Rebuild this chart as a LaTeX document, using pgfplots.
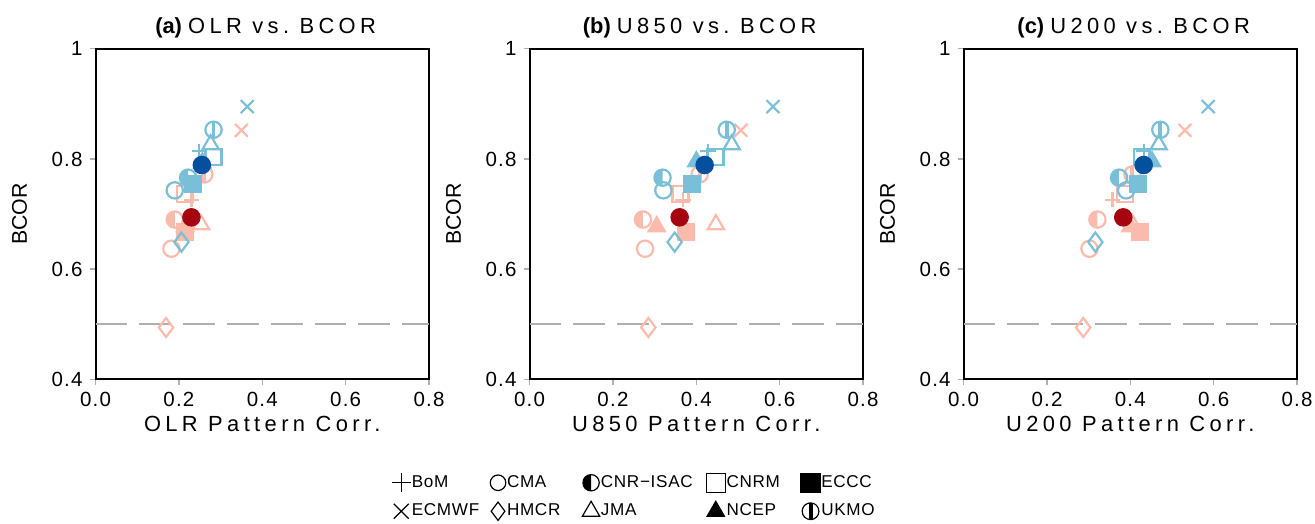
\documentclass[border=0pt]{standalone}
\usepackage{fontspec}
\setmainfont{Liberation Sans}
\newfontfamily\nclfont{Liberation Sans}[LetterSpace=20]
\newfontfamily\ticfam{Liberation Sans}[LetterSpace=6]
\newfontfamily\legfam{Liberation Sans}[LetterSpace=4]
\usepackage{pgfplots}
\pgfplotsset{compat=1.18}
\definecolor{lb}{RGB}{122,191,216}
\definecolor{sa}{RGB}{250,187,172}
\definecolor{db}{RGB}{5,80,158}
\definecolor{dr}{RGB}{165,5,16}
\definecolor{dashc}{RGB}{175,175,175}

\pgfdeclareplotmark{lefthalf}{%
  \pgfpathcircle{\pgfpointorigin}{\pgfplotmarksize}\pgfusepathqstroke
  \pgfpathmoveto{\pgfqpoint{0pt}{\pgfplotmarksize}}%
  \pgfpatharc{90}{270}{\pgfplotmarksize}\pgfpathclose\pgfusepathqfill}
\pgfdeclareplotmark{midbar}{%
  \pgfpathcircle{\pgfpointorigin}{\pgfplotmarksize}\pgfusepathqstroke
  \pgfpathrectangle{\pgfqpoint{-0.24\pgfplotmarksize}{-0.97\pgfplotmarksize}}{\pgfqpoint{0.48\pgfplotmarksize}{1.94\pgfplotmarksize}}\pgfusepathqfill}

\pgfplotsset{
  mBoM/.style={mark=+, mark size=3.8pt},
  mCMA/.style={mark=o, mark size=4.1pt},
  mCNR/.style={mark=lefthalf, mark size=4.1pt},
  mCNRM/.style={mark=square, mark size=4pt},
  mECCC/.style={mark=square*, mark size=4pt},
  mECMWF/.style={mark=x, mark size=4.6pt},
  mHMCR/.style={mark=diamond, mark size=4.8pt},
  mJMA/.style={mark=triangle, mark size=4.7pt},
  mNCEP/.style={mark=triangle*, mark size=4.7pt},
  mUKMO/.style={mark=midbar, mark size=4.1pt},
  mMean/.style={mark=*, mark size=4.1pt},
  panel/.style={
    scale only axis, width=167.5pt, height=166pt,
    xmin=0, xmax=0.8, ymin=0.4, ymax=1,
    xtick={0,0.2,0.4,0.6,0.8}, xticklabels={0.0,0.2,0.4,0.6,0.8},
    ytick={0.4,0.6,0.8,1}, yticklabels={0.4,0.6,0.8,1},
    xtick pos=left, ytick pos=left, tick align=outside,
    major tick length=3pt,
    every tick/.style={dashc, line width=0.7pt},
    axis line style={line width=1pt},
    clip=false,
    /pgf/number format/assume math mode=true,
    ticklabel style={font=\ticfam\fontsize{10.3}{11}\selectfont},
    xlabel style={font=\nclfont\fontsize{11}{12}\selectfont, at={(axis description cs:0.5,-0.1355)}, anchor=center},
    ylabel style={font=\fontsize{10.7}{12}\selectfont, at={(axis description cs:-0.228,0.5)}, anchor=center, rotate=0},
    title style={at={(axis description cs:0.51,1.062)}, anchor=center, yshift=-6pt},
    ylabel={BCOR},
  }
}
\newcommand\M[4]{\addplot[forget plot, only marks, color=#2, #1, mark options={line width=1.1pt, solid}] coordinates {(#3,#4)};}
\newcommand\dashline{\addplot[forget plot, dashc, line width=0.7pt, dash pattern=on 16pt off 6pt] coordinates {(0,0.5) (0.8,0.5)};}
\newcommand\ttl[2]{{\fontsize{11}{12}\selectfont\textbf{(#1)}\ {\nclfont #2~vs.~BCOR}}}

\begin{document}
\begin{tikzpicture}
\path[use as bounding box] (-48pt,-72.2pt) rectangle (612.5pt,190.5pt);
% ---------------- (a)
\begin{axis}[panel, at={(0pt,0pt)}, anchor=south west,
  title={\ttl{a}{OLR}}, xlabel={OLR Pattern Corr.}]
\dashline
\M{mBoM}{sa}{0.230}{0.726}
\M{mCMA}{sa}{0.182}{0.637}
\M{mCNR}{sa}{0.190}{0.690}
\M{mCNRM}{sa}{0.214}{0.736}
\M{mECCC}{sa}{0.214}{0.668}
\M{mECMWF}{sa}{0.350}{0.852}
\M{mHMCR}{sa}{0.169}{0.494}
\M{mJMA}{sa}{0.253}{0.681}
\M{mNCEP}{sa}{0.215}{0.677}
\M{mUKMO}{sa}{0.261}{0.772}
\M{mBoM}{lb}{0.249}{0.814}
\M{mCMA}{lb}{0.190}{0.743}
\M{mCNR}{lb}{0.222}{0.766}
\M{mCNRM}{lb}{0.283}{0.804}
\M{mECCC}{lb}{0.234}{0.754}
\M{mECMWF}{lb}{0.364}{0.895}
\M{mHMCR}{lb}{0.206}{0.649}
\M{mJMA}{lb}{0.276}{0.826}
\M{mNCEP}{lb}{0.256}{0.793}
\M{mUKMO}{lb}{0.283}{0.853}
\M{mMean}{dr}{0.230}{0.694}
\M{mMean}{db}{0.255}{0.789}
\end{axis}
% ---------------- (b)
\begin{axis}[panel, at={(218pt,0pt)}, anchor=south west,
  title={\ttl{b}{U850}}, xlabel={U850 Pattern Corr.},
  legend columns=5, legend cell align=left,
  legend image code/.code={\draw[mark repeat=2,mark phase=2] plot coordinates {(0pt,0pt) (5pt,0pt) (10pt,0pt)};},
  legend style={at={(axis description cs:-0.414,-0.283)}, anchor=north west, draw=none, fill=none,
    inner sep=0pt, column sep=0pt, row sep=4.5pt,
    nodes={inner sep=0.6pt, font=\legfam\fontsize{8.6}{9}\selectfont}},
  ]
\dashline
\M{mBoM}{sa}{0.368}{0.726}
\M{mCMA}{sa}{0.277}{0.637}
\M{mCNR}{sa}{0.272}{0.690}
\M{mCNRM}{sa}{0.362}{0.736}
\M{mECCC}{sa}{0.375}{0.668}
\M{mECMWF}{sa}{0.507}{0.852}
\M{mHMCR}{sa}{0.285}{0.494}
\M{mJMA}{sa}{0.447}{0.681}
\M{mNCEP}{sa}{0.305}{0.677}
\M{mUKMO}{sa}{0.408}{0.772}
\M{mBoM}{lb}{0.428}{0.814}
\M{mCMA}{lb}{0.321}{0.743}
\M{mCNR}{lb}{0.319}{0.766}
\M{mCNRM}{lb}{0.446}{0.804}
\M{mECCC}{lb}{0.390}{0.754}
\M{mECMWF}{lb}{0.584}{0.895}
\M{mHMCR}{lb}{0.348}{0.649}
\M{mJMA}{lb}{0.485}{0.826}
\M{mNCEP}{lb}{0.400}{0.795}
\M{mUKMO}{lb}{0.473}{0.853}
\M{mMean}{dr}{0.360}{0.694}
\M{mMean}{db}{0.420}{0.789}
\addlegendimage{only marks, black, mark=+, mark size=4.7pt, mark options={line width=0.6pt}}
\addlegendentry{\makebox[38.8pt][l]{BoM}}
\addlegendimage{only marks, black, mark=o, mark size=3.9pt, mark options={line width=0.6pt}}
\addlegendentry{\makebox[37.3pt][l]{CMA}}
\addlegendimage{only marks, black, mark=lefthalf, mark size=4.1pt, mark options={line width=0.6pt}}
\addlegendentry{\makebox[52.3pt][l]{CNR−ISAC}}
\addlegendimage{only marks, black, mark=square, mark size=4.8pt, mark options={line width=0.6pt}}
\addlegendentry{\makebox[36.8pt][l]{CNRM}}
\addlegendimage{only marks, black, mark=square*, mark size=4.8pt, mark options={line width=0.6pt}}
\addlegendentry{\makebox[35pt][l]{ECCC}}
\addlegendimage{only marks, black, mark=x, mark size=5.3pt, mark options={line width=0.6pt}}
\addlegendentry{\makebox[38.8pt][l]{ECMWF}}
\addlegendimage{only marks, black, mark=diamond, mark size=4.6pt, mark options={line width=0.6pt}}
\addlegendentry{\makebox[37.3pt][l]{HMCR}}
\addlegendimage{only marks, black, mark=triangle, mark size=5pt, mark options={line width=0.6pt}}
\addlegendentry{\makebox[52.3pt][l]{JMA}}
\addlegendimage{only marks, black, mark=triangle*, mark size=5pt, mark options={line width=0.6pt}}
\addlegendentry{\makebox[36.8pt][l]{NCEP}}
\addlegendimage{only marks, black, mark=midbar, mark size=4.2pt, mark options={line width=0.6pt}}
\addlegendentry{\makebox[35pt][l]{UKMO}}
\end{axis}
% ---------------- (c)
\begin{axis}[panel, at={(436pt,0pt)}, anchor=south west,
  title={\ttl{c}{U200}}, xlabel={U200 Pattern Corr.}]
\dashline
\M{mBoM}{sa}{0.357}{0.726}
\M{mCMA}{sa}{0.302}{0.637}
\M{mCNR}{sa}{0.321}{0.690}
\M{mCNRM}{sa}{0.387}{0.736}
\M{mECCC}{sa}{0.424}{0.668}
\M{mECMWF}{sa}{0.531}{0.852}
\M{mHMCR}{sa}{0.287}{0.494}
\M{mJMA}{sa}{0.405}{0.681}
\M{mNCEP}{sa}{0.400}{0.677}
\M{mUKMO}{sa}{0.405}{0.772}
\M{mBoM}{lb}{0.432}{0.814}
\M{mCMA}{lb}{0.390}{0.743}
\M{mCNR}{lb}{0.373}{0.766}
\M{mCNRM}{lb}{0.427}{0.804}
\M{mECCC}{lb}{0.419}{0.754}
\M{mECMWF}{lb}{0.587}{0.895}
\M{mHMCR}{lb}{0.316}{0.649}
\M{mJMA}{lb}{0.468}{0.826}
\M{mNCEP}{lb}{0.452}{0.795}
\M{mUKMO}{lb}{0.472}{0.853}
\M{mMean}{dr}{0.383}{0.694}
\M{mMean}{db}{0.432}{0.789}
\end{axis}
\end{tikzpicture}
\end{document}
